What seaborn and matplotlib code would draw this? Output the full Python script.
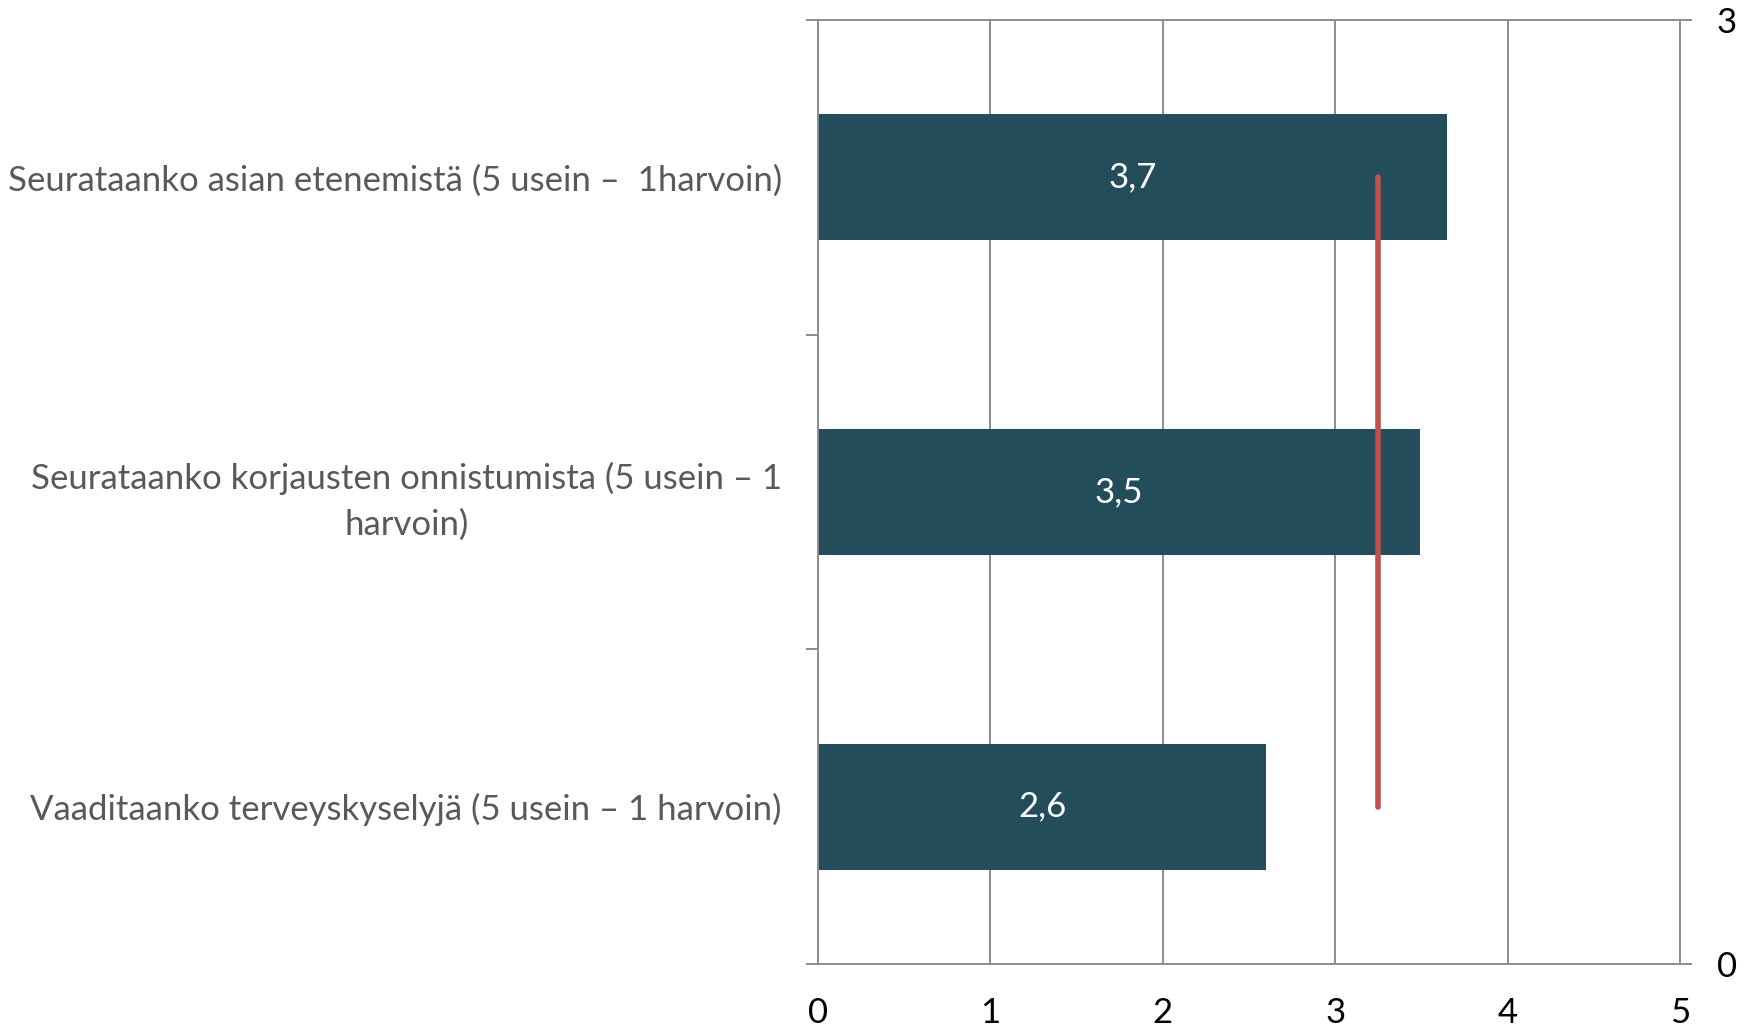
import matplotlib.pyplot as plt
import pandas as pd
import seaborn as sns

# survey questions and mean scores (scale 1-5)
questions = [
    'Seurataanko asian etenemistä (5 usein –  1harvoin)',
    'Seurataanko korjausten onnistumista (5 usein – 1\nharvoin)',
    'Vaaditaanko terveyskyselyjä (5 usein – 1 harvoin)',
]
scores = [3.65, 3.49, 2.60]
score_labels = ['3,7', '3,5', '2,6']

# average reference line, drawn on the secondary (0-3) axis
avg_x = [3.25, 3.25, 3.25]
avg_y = [2.5, 1.5, 0.5]

x_ticks = [0, 1, 2, 3, 4, 5]
y2_ticks = [0, 3]

BAR = '#234D5B'
RED = '#C0504D'
GRID = '#8C8C8C'
GREY_TXT = '#595959'
FS = 25

sns.set_style('white')
plt.rcParams['font.family'] = ['Lato', 'DejaVu Sans']

df = pd.DataFrame({'question': questions, 'score': scores})

fig = plt.figure(figsize=(17.52, 10.29), dpi=100)
ax = fig.add_axes([0.4669, 0.0632, 0.4920, 0.9174])
sns.barplot(data=df, x='score', y='question', color=BAR, width=0.4,
            saturation=1, linewidth=0, ax=ax)

ax.set_xlim(0, 5)
ax.set_ylim(2.5, -0.5)
ax.set_xticks(x_ticks)
ax.set_xticklabels([str(t) for t in x_ticks])
ax.set_xlabel('')
ax.set_ylabel('')
ax.grid(axis='x', color=GRID, lw=1.4)
ax.grid(axis='y', visible=False)
ax.set_axisbelow(True)
for sp in ax.spines.values():
    sp.set_visible(True)
    sp.set_color(GRID)
    sp.set_linewidth(1.4)

ax.set_yticks([-0.5, 0.5, 1.5, 2.5], minor=True)
ax.tick_params(axis='y', which='major', length=0, pad=26, labelsize=FS, labelcolor=GREY_TXT)
ax.tick_params(axis='y', which='minor', left=True, length=8.6, width=1.4, color=GRID, direction='out')
ax.tick_params(axis='x', length=0, pad=24, labelsize=FS, labelcolor='black')
for lab in ax.get_yticklabels():
    lab.set_multialignment('center')
    lab.set_linespacing(1.5)

ax.bar_label(ax.containers[0], labels=score_labels, label_type='center',
             color='white', fontsize=FS)

ax2 = ax.twinx()
ax2.plot(avg_x, avg_y, color=RED, lw=4, solid_capstyle='round')
ax2.set_ylim(0, 3)
ax2.set_yticks(y2_ticks)
ax2.set_yticklabels([str(t) for t in y2_ticks])
ax2.tick_params(axis='y', right=True, length=8.6, width=1.4, color=GRID,
                direction='out', pad=18, labelsize=FS, labelcolor='black')
for sp in ax2.spines.values():
    sp.set_visible(False)

fig.savefig('out.png', dpi=100)
